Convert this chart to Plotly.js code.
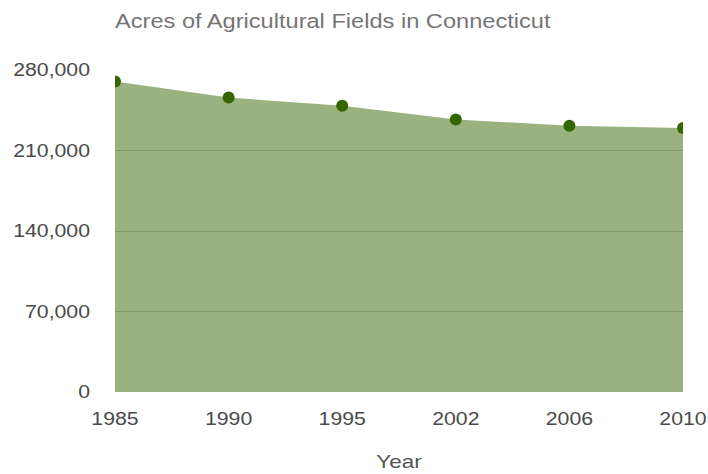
<!DOCTYPE html>
<html><head><meta charset="utf-8">
<script src="https://cdn.plot.ly/plotly-3.0.1.min.js"></script>
<style>html,body{margin:0;padding:0;background:#fff}#c{width:708px;height:474px}</style>
</head><body><div id="c"></div>
<script>
const years = ['1985','1990','1995','2002','2006','2010'];
const acres = [270000, 256000, 249000, 237000, 231500, 229500];
const yTicks = [0, 70000, 140000, 210000, 280000];
const yTickText = ['0','70,000','140,000','210,000','280,000'];

Plotly.newPlot('c', [{
  x: years, y: acres, type: 'scatter', mode: 'lines+markers',
  fill: 'tozeroy', fillcolor: 'rgba(51,102,0,0.5)',
  line: {width: 0, color: 'rgba(255,255,255,0.4)'},
  marker: {size: 12, color: '#336600'},
  hoverinfo: 'x+y'
}], {
  width: 708, height: 474,
  margin: {l: 115, r: 25, t: 70, b: 82},
  paper_bgcolor: '#fff', plot_bgcolor: '#fff',
  font: {family: 'Liberation Sans, Arial, sans-serif', color: '#444', size: 18},
  title: {text: 'Acres of Agricultural Fields in Connecticut', x: 0, xanchor: 'left', xref: 'paper', y: 0.955, yanchor: 'middle',
          font: {size: 20, color: '#757575'}},
  showlegend: false,
  xaxis: {type: 'category', range: [0, 5], showgrid: false, zeroline: false, showline: false,
          ticks: '', ticklabelstandoff: 14, tickfont: {size: 18, color: '#4a4a4a'},
          title: {text: 'Year', standoff: 26, font: {size: 19, color: '#555'}}},
  yaxis: {range: [0, 280000], tickvals: yTicks, ticktext: yTickText, showgrid: true,
          gridcolor: '#cccccc', gridwidth: 1, zeroline: false, showline: false, ticks: '',
          ticklabelstandoff: 24, tickfont: {size: 18, color: '#4a4a4a'}},
}, {displayModeBar: false, staticPlot: true}).then(function(gd){
  // reference text is rendered slightly wider than normal; stretch glyphs horizontally
  gd.querySelectorAll('g.xtick text, g.ytick text, text.gtitle, text.xtitle').forEach(function(t){
    const len = t.getComputedTextLength();
    if (len > 0) {
      t.setAttribute('textLength', (len * 1.18).toFixed(1));
      t.setAttribute('lengthAdjust', 'spacingAndGlyphs');
    }
  });
});
</script></body></html>
